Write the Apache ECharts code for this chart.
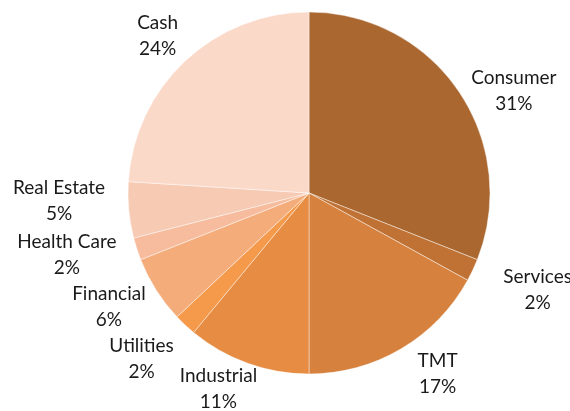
<!DOCTYPE html>
<html>
<head>
<meta charset="utf-8">
<script src="https://cdn.jsdelivr.net/npm/echarts@6/dist/echarts.min.js"></script>
<style>
  html, body { margin: 0; padding: 0; background: #fff; }
  #chart { width: 570px; height: 411px; }
</style>
</head>
<body>
<div id="chart"></div>
<script>
const sectors = ['Consumer', 'Services', 'TMT', 'Industrial', 'Utilities', 'Financial', 'Health Care', 'Real Estate', 'Cash'];
const shares = [31, 2, 17, 11, 2, 6, 2, 5, 24];
const colors = ['#AA672F', '#BF7234', '#D6823E', '#E68C43', '#F5994A', '#F4AC7B', '#F6BC9D', '#F7CAB4', '#FBD9C9'];
// small hand nudges for the data labels, like Excel's own label placement
const labelNudge = [[0, 18], [12, 6], [14, -2], [-8, 0], [-5, 11], [4, 0], [0, -4], [0, -12], [3, -2]];

const cx = 309, cy = 193, R = 181;
const total = shares.reduce((a, b) => a + b, 0);

// mid angle of each slice, clockwise from 12 o'clock
const midAngles = [];
let acc = 0;
shares.forEach(v => {
  midAngles.push((acc + v / 2) / total * Math.PI * 2);
  acc += v;
});

const chart = echarts.init(document.getElementById('chart'));
chart.setOption({
  animation: false,
  series: [
    {
      type: 'pie',
      center: [cx, cy],
      radius: R,
      startAngle: 90,
      clockwise: true,
      avoidLabelOverlap: false,
      data: sectors.map((name, i) => ({ name, value: shares[i], itemStyle: { color: colors[i] } })),
      itemStyle: { borderColor: 'rgba(255,255,255,0.55)', borderWidth: 0.8 },
      label: {
        position: 'outside',
        formatter: p => p.name + '\n' + Math.round(p.percent) + '%',
        fontFamily: 'Lato',
        fontSize: 19,
        lineHeight: 26,
        color: '#1a1a1a',
        align: 'center'
      },
      labelLine: { show: false },
      labelLayout: params => {
        const i = params.dataIndex;
        const a = midAngles[i];
        const s = Math.sin(a), c = Math.cos(a);
        const w = params.labelRect.width, h = params.labelRect.height;
        const x = cx + s * (R + 6 + w / 2 + 18);
        const y = Math.min(cy - c * (R + 6 + h / 2), 389);
        return {
          x: x + labelNudge[i][0],
          y: y + labelNudge[i][1],
          align: 'center',
          verticalAlign: 'middle'
        };
      }
    }
  ]
});
</script>
</body>
</html>
